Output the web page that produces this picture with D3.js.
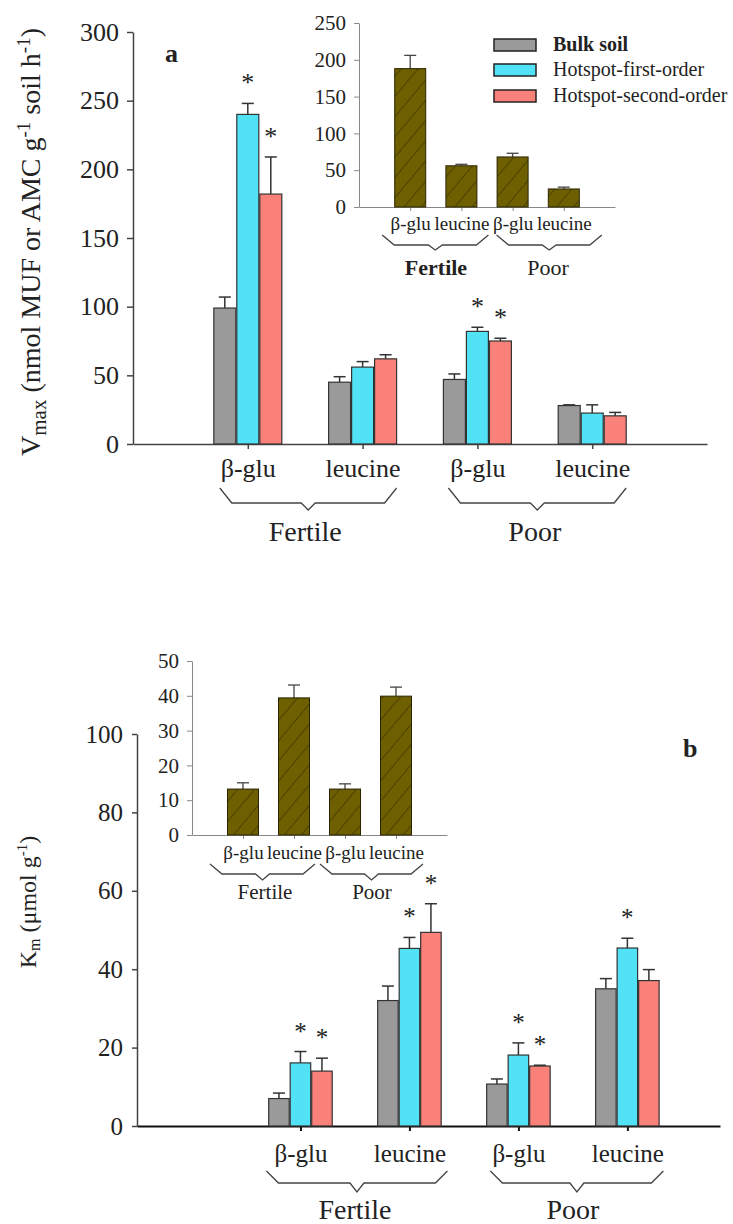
<!DOCTYPE html>
<html>
<head>
<meta charset="utf-8">
<script src="https://cdn.jsdelivr.net/npm/d3@7"></script>
<style>
  body { margin: 0; background: #fff; }
</style>
</head>
<body>
<div id="chart"></div>
<script>
// categories
const substrates = ["β-glu", "leucine", "β-glu", "leucine"];
const soils = ["Fertile", "Poor"];
const seriesNames = ["Bulk soil", "Hotspot-first-order", "Hotspot-second-order"];

// panel a: Vmax
const vmaxBulk = [99, 45, 47, 28];
const vmaxBulkErr = [8, 4, 4, 0.5];
const vmaxFirst = [240, 56, 82, 22.5];
const vmaxFirstErr = [8, 4, 3, 6];
const vmaxSecond = [182, 62, 75, 20.5];
const vmaxSecondErr = [27, 3, 2, 2.5];
const vmaxStarsFirst = [1, 0, 1, 0];
const vmaxStarsSecond = [1, 0, 1, 0];
const vmaxTicks = [0, 50, 100, 150, 200, 250, 300];
// inset a
const vmaxInset = [188, 56, 68, 24.5];
const vmaxInsetErr = [18, 2, 5, 2.5];
const vmaxInsetTicks = [0, 50, 100, 150, 200, 250];

// panel b: Km
const kmBulk = [7, 32, 10.7, 35];
const kmBulkErr = [1.4, 3.7, 1.3, 2.6];
const kmFirst = [16.1, 45.3, 18.1, 45.4];
const kmFirstErr = [2.9, 2.8, 3.1, 2.5];
const kmSecond = [14, 49.4, 15.3, 37.1];
const kmSecondErr = [3.3, 7.3, 0.2, 2.8];
const kmStarsFirst = [1, 1, 1, 1];
const kmStarsSecond = [1, 1, 1, 0];
const kmTicks = [0, 20, 40, 60, 80, 100];
// inset b
const kmInset = [13.2, 39.4, 13.2, 39.9];
const kmInsetErr = [1.8, 3.7, 1.5, 2.6];
const kmInsetTicks = [0, 10, 20, 30, 40, 50];

const colors = ["#9a9a9a", "#52e2f5", "#fa807a"];
const olive = "#6e6000";

const svg = d3.select("#chart").append("svg")
  .attr("width", 733)
  .attr("height", 1224);

// hatch for the inset bars
svg.append("defs").append("pattern")
  .attr("id", "hatch")
  .attr("patternUnits", "userSpaceOnUse")
  .attr("width", 13).attr("height", 13)
  .attr("patternTransform", "rotate(40)")
  .append("line")
  .attr("x1", 0).attr("y1", 0).attr("x2", 0).attr("y2", 13)
  .attr("stroke", "#2a2400").attr("stroke-width", 1);

function styleAxis(g, color, width, fontSize) {
  g.select(".domain").attr("stroke", color).attr("stroke-width", width);
  g.selectAll(".tick line").attr("stroke", color).attr("stroke-width", width);
  g.selectAll(".tick text")
    .attr("font-size", fontSize)
    .attr("fill", "#222");
}

function brace(g, x1, x2, top, flat, tip) {
  const cx = (x1 + x2) / 2;
  const path = d3.path();
  path.moveTo(x1, top);
  path.lineTo(x1 + 12, flat);
  path.lineTo(cx - 7, flat);
  path.lineTo(cx, tip);
  path.lineTo(cx + 7, flat);
  path.lineTo(x2 - 12, flat);
  path.lineTo(x2, top);
  g.append("path").attr("d", path.toString())
    .attr("fill", "none").attr("stroke", "#444").attr("stroke-width", 1.3);
}

function groupedBars(g, x, y, pos, vals, errs, stars, bw, starSize) {
  vals.forEach((arr, s) => {
    const rows = arr.map((v, i) => ({ v: v, e: errs[s][i], star: stars[s] ? stars[s][i] : 0, cx: x(pos[i]) + (s - 1) * (bw + 1) }));
    const grp = g.append("g");
    grp.selectAll("line.err").data(rows).join("line")
      .attr("x1", d => d.cx).attr("x2", d => d.cx)
      .attr("y1", d => y(d.v)).attr("y2", d => y(d.v + d.e))
      .attr("stroke", "#333").attr("stroke-width", 1.5);
    grp.selectAll("line.cap").data(rows).join("line")
      .attr("x1", d => d.cx - 6).attr("x2", d => d.cx + 6)
      .attr("y1", d => y(d.v + d.e)).attr("y2", d => y(d.v + d.e))
      .attr("stroke", "#333").attr("stroke-width", 1.5);
    grp.selectAll("rect").data(rows).join("rect")
      .attr("x", d => d.cx - bw / 2)
      .attr("y", d => y(d.v))
      .attr("width", bw)
      .attr("height", d => y(0) - y(d.v))
      .attr("fill", colors[s])
      .attr("stroke", "#333")
      .attr("stroke-width", 1.2);
    grp.selectAll("text").data(rows.filter(d => d.star)).join("text")
      .attr("x", d => d.cx)
      .attr("y", d => y(d.v + d.e) - 12)
      .attr("text-anchor", "middle")
      .attr("font-size", starSize)
      .text("*");
  });
}

function insetBars(g, x, y, vals, errs, bw) {
  const rows = vals.map((v, i) => ({ v: v, e: errs[i], cx: x(i + 1) }));
  g.selectAll("line.err").data(rows).join("line")
    .attr("x1", d => d.cx).attr("x2", d => d.cx)
    .attr("y1", d => y(d.v)).attr("y2", d => y(d.v + d.e))
    .attr("stroke", "#444").attr("stroke-width", 1.3);
  g.selectAll("line.cap").data(rows).join("line")
    .attr("x1", d => d.cx - 6).attr("x2", d => d.cx + 6)
    .attr("y1", d => y(d.v + d.e)).attr("y2", d => y(d.v + d.e))
    .attr("stroke", "#444").attr("stroke-width", 1.3);
  ["fill", "hatch"].forEach(layer => {
    g.append("g").selectAll("rect").data(rows).join("rect")
      .attr("x", d => d.cx - bw / 2)
      .attr("y", d => y(d.v))
      .attr("width", bw)
      .attr("height", d => y(0) - y(d.v))
      .attr("fill", layer === "fill" ? olive : "url(#hatch)")
      .attr("stroke", layer === "fill" ? "#2a2400" : "none")
      .attr("stroke-width", 1);
  });
}

// ---------- panel a ----------
const xa = d3.scaleLinear().domain([0, 5]).range([133, 707]);
const ya = d3.scaleLinear().domain([0, 300]).range([444, 32]);

const ga = svg.append("g");
ga.append("g").attr("transform", "translate(133,0)")
  .call(d3.axisLeft(ya).tickValues(vmaxTicks).tickSize(6).tickSizeOuter(0).tickPadding(8))
  .call(g => styleAxis(g, "#444", 1.5, 26));
ga.append("g").attr("transform", "translate(0,444)")
  .call(d3.axisBottom(xa).tickValues([1, 2, 3, 4]).tickFormat(d => substrates[d - 1]).tickSize(5).tickSizeOuter(0).tickPadding(10))
  .call(g => styleAxis(g, "#444", 1.5, 26));

groupedBars(ga, xa, ya, [1, 2, 3, 4],
  [vmaxBulk, vmaxFirst, vmaxSecond],
  [vmaxBulkErr, vmaxFirstErr, vmaxSecondErr],
  [null, vmaxStarsFirst, vmaxStarsSecond], 22, 26);

brace(ga, xa(1) - 28, xa(2) + 34, 488, 503, 510);
brace(ga, xa(3) - 29, xa(4) + 34, 488, 503, 510);
soils.forEach((s, i) => {
  ga.append("text")
    .attr("x", (xa(2 * i + 1) + xa(2 * i + 2)) / 2)
    .attr("y", 541)
    .attr("text-anchor", "middle")
    .attr("font-size", 28)
    .text(s);
});

ga.append("text").attr("x", 165).attr("y", 62)
  .attr("font-size", 26).attr("font-weight", "bold").text("a");

const yLabA = ga.append("text")
  .attr("transform", "translate(40,242) rotate(-90)")
  .attr("text-anchor", "middle")
  .attr("font-size", 28);
yLabA.append("tspan").text("V");
yLabA.append("tspan").attr("font-size", 21).attr("dy", 6).text("max");
yLabA.append("tspan").attr("dy", -6).text(" (nmol MUF or AMC g");
yLabA.append("tspan").attr("font-size", 19).attr("dy", -10).text("-1");
yLabA.append("tspan").attr("dy", 10).text(" soil h");
yLabA.append("tspan").attr("font-size", 19).attr("dy", -10).text("-1");
yLabA.append("tspan").attr("dy", 10).text(")");

// inset a
const xia = d3.scaleLinear().domain([0, 5]).range([359, 615]);
const yia = d3.scaleLinear().domain([0, 250]).range([207, 23]);
const gia = svg.append("g");
gia.append("g").attr("transform", "translate(359,0)")
  .call(d3.axisLeft(yia).tickValues(vmaxInsetTicks).tickSize(5).tickSizeOuter(0).tickPadding(8))
  .call(g => styleAxis(g, "#888", 1, 21));
gia.append("g").attr("transform", "translate(0,207)")
  .call(d3.axisBottom(xia).tickValues([1, 2, 3, 4]).tickFormat(d => substrates[d - 1]).tickSize(4).tickSizeOuter(0).tickPadding(6))
  .call(g => styleAxis(g, "#888", 1, 19));
insetBars(gia, xia, yia, vmaxInset, vmaxInsetErr, 31);
brace(gia, xia(1) - 28, xia(2) + 27, 235, 245, 250);
brace(gia, xia(3) - 16, xia(4) + 38, 235, 245, 250);
soils.forEach((s, i) => {
  gia.append("text")
    .attr("x", i === 0 ? 436 : 548)
    .attr("y", 275)
    .attr("text-anchor", "middle")
    .attr("font-size", 22)
    .attr("font-weight", i === 0 ? "bold" : "normal")
    .text(s);
});

// legend
const legend = svg.append("g");
seriesNames.forEach((name, i) => {
  const cy = [45, 70, 96][i];
  legend.append("rect").attr("x", 494).attr("y", cy - 6).attr("width", 42).attr("height", 12)
    .attr("fill", colors[i]).attr("stroke", "#222").attr("stroke-width", 1.5);
  legend.append("text").attr("x", 553).attr("y", cy + 6)
    .attr("font-size", 20)
    .attr("font-weight", i === 0 ? "bold" : "normal")
    .text(name);
});

// ---------- panel b ----------
const xb = d3.scaleLinear().domain([0, 5.35]).range([137, 720]);
const yb = d3.scaleLinear().domain([0, 100]).range([1126, 734]);
const posB = [1.5, 2.5, 3.5, 4.5];

const gb = svg.append("g");
gb.append("g").attr("transform", "translate(137,0)")
  .call(d3.axisLeft(yb).tickValues(kmTicks).tickSize(5).tickSizeOuter(0).tickPadding(9))
  .call(g => styleAxis(g, "#444", 1.5, 25));
gb.append("g").attr("transform", "translate(0,1126)")
  .call(d3.axisBottom(xb).tickValues(posB).tickFormat((d, i) => substrates[i]).tickSize(5).tickSizeOuter(0).tickPadding(13))
  .call(g => styleAxis(g, "#111", 2, 25));

groupedBars(gb, xb, yb, posB,
  [kmBulk, kmFirst, kmSecond],
  [kmBulkErr, kmFirstErr, kmSecondErr],
  [null, kmStarsFirst, kmStarsSecond], 20.5, 25);

brace(gb, xb(posB[0]) - 34, xb(posB[1]) + 38, 1171, 1183, 1192);
brace(gb, xb(posB[2]) - 28, xb(posB[3]) + 36, 1171, 1183, 1192);
soils.forEach((s, i) => {
  gb.append("text")
    .attr("x", (xb(posB[2 * i]) + xb(posB[2 * i + 1])) / 2)
    .attr("y", 1219)
    .attr("text-anchor", "middle")
    .attr("font-size", 28)
    .text(s);
});

gb.append("text").attr("x", 683).attr("y", 757)
  .attr("font-size", 26).attr("font-weight", "bold").text("b");

const yLabB = gb.append("text")
  .attr("transform", "translate(36,902) rotate(-90)")
  .attr("text-anchor", "middle")
  .attr("font-size", 24);
yLabB.append("tspan").text("K");
yLabB.append("tspan").attr("font-size", 16).attr("dy", 4).text("m");
yLabB.append("tspan").attr("dy", -4).text(" (μmol g");
yLabB.append("tspan").attr("font-size", 15).attr("dy", -9).text("-1");
yLabB.append("tspan").attr("dy", 9).text(")");

// inset b
const xib = d3.scaleLinear().domain([0, 5]).range([192, 447]);
const yib = d3.scaleLinear().domain([0, 50]).range([835, 661]);
const gib = svg.append("g");
gib.append("g").attr("transform", "translate(192,0)")
  .call(d3.axisLeft(yib).tickValues(kmInsetTicks).tickSize(5).tickSizeOuter(0).tickPadding(8))
  .call(g => styleAxis(g, "#888", 1, 21));
gib.append("g").attr("transform", "translate(0,835)")
  .call(d3.axisBottom(xib).tickValues([1, 2, 3, 4]).tickFormat(d => substrates[d - 1]).tickSize(4).tickSizeOuter(0).tickPadding(7))
  .call(g => styleAxis(g, "#888", 1, 19));
insetBars(gib, xib, yib, kmInset, kmInsetErr, 31);
brace(gib, 210, 315, 864, 874, 880);
brace(gib, 320, 423, 864, 874, 880);
soils.forEach((s, i) => {
  gib.append("text")
    .attr("x", i === 0 ? 265 : 372)
    .attr("y", 899)
    .attr("text-anchor", "middle")
    .attr("font-size", 21)
    .text(s);
});

// serif everywhere, inline so nothing overrides it
svg.selectAll("text")
  .style("font-family", "'Liberation Serif'")
  .style("fill", "#222");
</script>
</body>
</html>
